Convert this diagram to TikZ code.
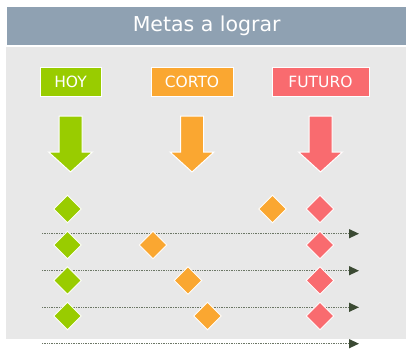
\documentclass[tikz,border=0pt]{standalone}
\usepackage{fontspec}
\setmainfont{DejaVu Sans}
\usetikzlibrary{shapes.geometric,arrows.meta}
\definecolor{headc}{HTML}{8FA1B2}
\definecolor{panelc}{HTML}{E8E8E8}
\definecolor{greenc}{HTML}{99CC00}
\definecolor{orangec}{HTML}{FAA731}
\definecolor{redc}{HTML}{F96B6F}
\definecolor{linec}{HTML}{3B4A33}
\tikzset{
  labelbox/.style={draw=white, line width=1pt, text=white, inner sep=0pt, minimum height=29pt, font=\fontsize{15.5}{15.5}\selectfont},
  gem/.style={diamond, draw=white, line width=0.9pt, inner sep=0pt, minimum width=28pt, minimum height=28pt},
  timeline/.style={draw=linec!75!white, line width=1.3pt, dash pattern=on 0.9pt off 0.8pt, -{Triangle[length=10pt,width=9pt,fill=linec,color=linec]}},
  bigarrow/.style={draw=white, line width=1pt},
}
\newcommand{\downarrowshape}[3]{% x center, top y, colour
  \filldraw[bigarrow, fill=#3] (#1-11.5,#2) -- (#1+11.5,#2) -- (#1+11.5,#2+36) -- (#1+22,#2+36) -- (#1,#2+56) -- (#1-22,#2+36) -- (#1-11.5,#2+36) -- cycle;}
\begin{document}
\begin{tikzpicture}[x=1pt,y=-1pt]
\useasboundingbox (0,0) rectangle (406,348);
\fill[white] (0,0) rectangle (406,348);
\fill[panelc] (6,46.5) rectangle (406,339);
\node[fill=headc, minimum width=399pt, minimum height=38pt, inner sep=0pt, anchor=north west, text=white, font=\fontsize{20.5}{20.5}\selectfont] (title) at (7,7) {Metas a lograr};
\node[labelbox, fill=greenc, minimum width=61pt] (hoy) at (70.5,82) {HOY};
\node[labelbox, fill=orangec, minimum width=82pt] (corto) at (192,81.5) {CORTO};
\node[labelbox, fill=redc, minimum width=97pt] (futuro) at (320.5,81.5) {FUTURO};
\downarrowshape{70.5}{116}{greenc}
\downarrowshape{192}{116}{orangec}
\downarrowshape{320.5}{116}{redc}
% timelines
\foreach \i/\y in {1/233.7,2/270.7,3/307.3,4/343.7}{
  \coordinate (ls\i) at (42,\y);
  \coordinate (le\i) at (359,\y);
  \draw[timeline] (ls\i) -- (le\i);
}
% diamonds
\foreach \i/\y in {1/209,2/245,3/280.5,4/316}{
  \node[gem, fill=greenc] (g\i) at (67.5,\y) {};
  \node[gem, fill=redc] (r\i) at (320,\y) {};
}
\node[gem, fill=orangec] (o1) at (272.5,209) {};
\node[gem, fill=orangec] (o2) at (153,245) {};
\node[gem, fill=orangec] (o3) at (188,280.5) {};
\node[gem, fill=orangec] (o4) at (207.5,316) {};
\end{tikzpicture}
\end{document}
